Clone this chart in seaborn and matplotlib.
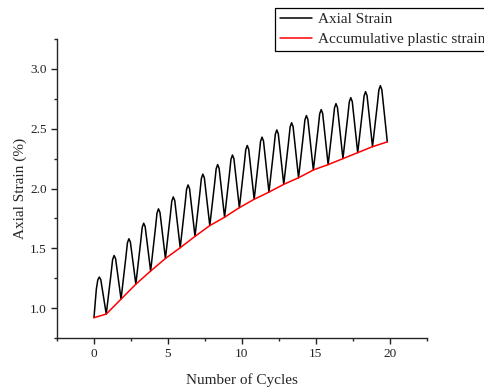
"""Cyclic loading test: axial strain vs number of cycles."""

import matplotlib
matplotlib.use("Agg")
import matplotlib.pyplot as plt
import pandas as pd
import seaborn as sns
from matplotlib.ticker import FormatStrFormatter, MultipleLocator

# values
start_strain = 0.92
peak_strain = [1.26, 1.44, 1.58, 1.71, 1.83, 1.93, 2.03, 2.12, 2.20, 2.28,
               2.36, 2.43, 2.49, 2.55, 2.61, 2.66, 2.71, 2.76, 2.81, 2.86]
trough_strain = [0.95, 1.075, 1.20, 1.31, 1.415, 1.505, 1.60, 1.69, 1.76, 1.84,
                 1.91, 1.97, 2.035, 2.09, 2.155, 2.20, 2.25, 2.30, 2.35, 2.39]
cycle_index = list(range(20))
peak_phase = 0.36     # position of the peak inside a cycle
trough_phase = 0.83   # position of the unloaded point inside a cycle
# shape of one loading cycle around its peak: offset from peak and the
# share of the rise (from the neighbouring trough) reached there
cap_offset = [-0.2, -0.1, 0.0, 0.1, 0.2]
cap_share = [0.7, 0.93, 1.0, 0.93, 0.68]

# axial strain trace: start, then per cycle the rounded cap and the trough
xs, ys = [0.0], [start_strain]
for k in cycle_index:
    before = start_strain if k == 0 else trough_strain[k - 1]
    after = trough_strain[k]
    for dx, share in zip(cap_offset, cap_share):
        base = before if dx < 0 else after
        xs.append(k + peak_phase + dx)
        ys.append(base + share * (peak_strain[k] - base))
    xs.append(k + trough_phase)
    ys.append(trough_strain[k])
axial = pd.DataFrame({"cycle": xs, "strain": ys})

plastic = pd.DataFrame({
    "cycle": [0.0] + [k + trough_phase for k in cycle_index],
    "strain": [start_strain] + trough_strain,
})

sns.set_style("ticks")
plt.rcParams["font.family"] = ["Liberation Serif", "DejaVu Serif"]

fig = plt.figure(figsize=(4.85, 3.87), dpi=100)
ax = fig.add_axes([0.1175, 0.1266, 0.7625, 0.7725])

sns.lineplot(data=axial, x="cycle", y="strain", sort=False, ax=ax,
             color="black", linewidth=1.1, label="Axial Strain")
sns.lineplot(data=plastic, x="cycle", y="strain", sort=False, ax=ax,
             color="#ff0000", linewidth=1.1, label="Accumulative plastic strain")

ax.set_xlim(-2.5, 22.5)
ax.set_ylim(0.75, 3.25)
ax.xaxis.set_major_locator(MultipleLocator(5))
ax.xaxis.set_minor_locator(MultipleLocator(2.5))
ax.yaxis.set_major_locator(MultipleLocator(0.5))
ax.yaxis.set_minor_locator(MultipleLocator(0.25))
ax.yaxis.set_major_formatter(FormatStrFormatter("%.1f"))
ax.tick_params(which="major", direction="out", length=4, width=1, labelsize=9.5,
               colors="#222222")
ax.tick_params(which="minor", direction="out", length=2.5, width=1)
for side in ("left", "bottom"):
    ax.spines[side].set_linewidth(1)
sns.despine(ax=ax)

ax.set_xlabel("Number of Cycles", fontsize=11, labelpad=9)
ax.set_ylabel("Axial Strain (%)", fontsize=11, labelpad=2)

ax.legend(loc="upper left", bbox_to_anchor=(275 / 485, 1 - 8 / 387),
          bbox_transform=fig.transFigure, fontsize=11, frameon=True,
          fancybox=False, edgecolor="black", framealpha=1,
          handlelength=2.1, handletextpad=0.4, borderpad=0.3,
          labelspacing=0.4, borderaxespad=0)
ax.get_legend().get_frame().set_linewidth(0.9)

fig.savefig("out.png", dpi=100)
